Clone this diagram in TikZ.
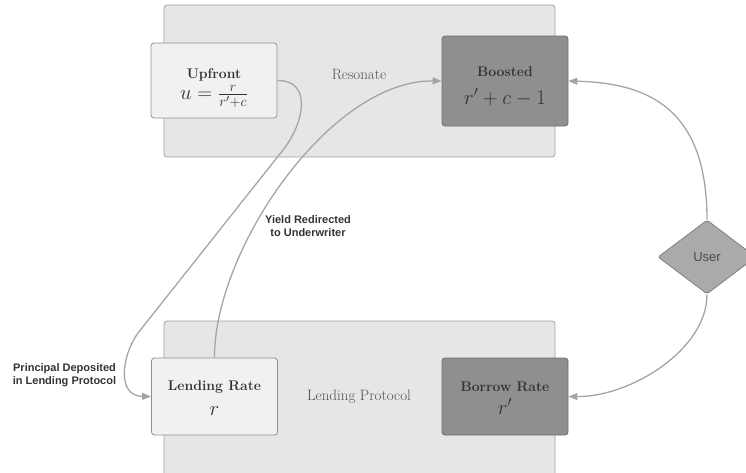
\documentclass[tikz,border=0pt]{standalone}
\usepackage{fontspec}
\usepackage{amsmath,amssymb}
\usetikzlibrary{shapes.geometric}
\usetikzlibrary{arrows.meta}
\newfontfamily\labelfont{Liberation Sans}
\definecolor{panel}{RGB}{230,230,230}
\definecolor{panelline}{RGB}{160,160,160}
\definecolor{pale}{RGB}{241,241,241}
\definecolor{dark}{RGB}{143,143,143}
\definecolor{userfill}{RGB}{170,170,170}
\definecolor{flow}{RGB}{165,165,165}
\definecolor{ink}{RGB}{51,51,51}
\newcommand{\up}[1]{\rule{0pt}{#1pt}}
\tikzset{
  panelbox/.style={draw=panelline, fill=panel, rounded corners=3pt, line width=0.8pt},
  palebox/.style={draw=panelline!90!black, fill=pale, rounded corners=3pt, line width=0.8pt,
    minimum width=126pt, align=center, text=ink, inner sep=0pt, font=\fontsize{14}{17}\selectfont},
  darkbox/.style={draw=black!57, fill=dark, rounded corners=3pt, line width=0.8pt,
    minimum width=126pt, align=center, text=ink, inner sep=0pt, font=\fontsize{14}{17}\selectfont},
  flowline/.style={draw=flow, line width=1.3pt, -{Triangle[length=9pt,width=7pt]}},
  flowtext/.style={font=\labelfont\bfseries\fontsize{11}{13}\selectfont, align=center, text=ink}
}

\begin{document}
\begin{tikzpicture}[x=1pt,y=-1pt]
\useasboundingbox (0,0) rectangle (746,472);

\node [panelbox, minimum width=391pt, minimum height=152pt] (resonate) at (359.5,81) {};
\node [panelbox, minimum width=391pt, minimum height=160pt] (protocol) at (359.5,401) {};
\node [text=black!68, font=\fontsize{15}{18}\selectfont] (resonatetxt) at (359,74) {Resonate};
\node [text=black!68, font=\fontsize{15}{18}\selectfont] (protocoltxt) at (359,397) {Lending Protocol};

\node [palebox, minimum height=75pt] (upfront) at (214,80.5)
  {\up{25}\bfseries Upfront\\\up{18}{\fontsize{22}{24}\selectfont $u=\frac{r}{r'+c}$}};
\node [darkbox, minimum height=90pt] (boosted) at (505,81)
  {\up{20}\bfseries Boosted\\\up{27}{\fontsize{21}{24}\selectfont $r'+c-1$}};
\node [palebox, minimum height=77pt] (lending) at (214.5,396.5)
  {\up{13}\bfseries Lending Rate\\\up{21}{\fontsize{22}{24}\selectfont $r$}};
\node [darkbox, minimum height=77pt] (borrow) at (505,396.5)
  {\up{13}\bfseries Borrow Rate\\\up{21}{\fontsize{22}{24}\selectfont $r'$}};

\node [diamond, draw=black!50, fill=userfill, line width=0.8pt, rounded corners=2pt,
  minimum width=98pt, minimum height=74pt, inner sep=0pt, text=black!70,
  font=\labelfont\fontsize{13}{15}\selectfont] (user) at (707,257) {User};

\node [flowtext] (yieldtxt) at (308,226) {Yield Redirected\\to Underwriter};
\node [flowtext] (principaltxt) at (64.5,375) {Principal Deposited\\in Lending Protocol};

\coordinate (bendA) at (283,150);
\coordinate (bendB) at (138,333);

\draw [flowline] (upfront.east) .. controls (312,80) and (305,122) .. (bendA)
  -- (bendB) .. controls (122,355) and (116,396) .. (lending.west);
\draw [flowline] (lending.north) .. controls (214,250) and (330,80) .. (boosted.west);
\draw [flowline] (user.north) .. controls (707,110) and (650,83) .. (boosted.east);
\draw [flowline] (user.south) .. controls (707,350) and (630,397) .. (borrow.east);

\end{tikzpicture}
\end{document}
